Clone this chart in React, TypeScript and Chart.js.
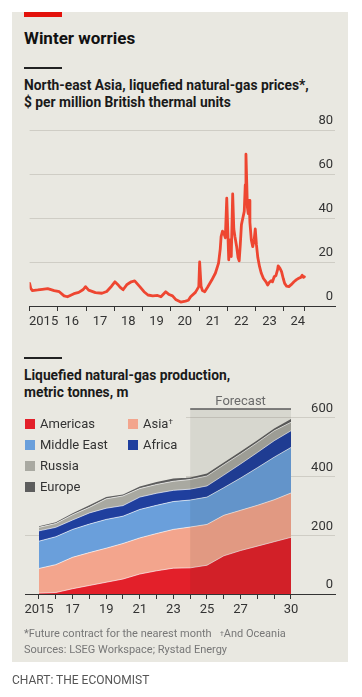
import React, { useEffect, useRef } from 'react';
import { Chart, registerables } from 'chart.js';

Chart.register(...registerables);

// ---------- Data: LNG prices (NE Asia, $/mmBtu) ----------
const priceDates = [
  2015.0, 2015.04, 2015.1, 2015.29, 2015.45, 2015.64, 2015.87,
  2016.05, 2016.22, 2016.34, 2016.57, 2016.74, 2016.9, 2016.98,
  2017.09, 2017.33, 2017.56, 2017.73, 2017.9,
  2018.02, 2018.12, 2018.2, 2018.31, 2018.45, 2018.6, 2018.72, 2018.9,
  2019.05, 2019.19, 2019.36, 2019.53, 2019.65, 2019.82, 2019.94,
  2020.06, 2020.17, 2020.35, 2020.52, 2020.62, 2020.7, 2020.87, 2020.99,
  2021.02, 2021.07, 2021.12, 2021.2, 2021.3, 2021.45, 2021.58, 2021.69, 2021.75, 2021.78, 2021.83, 2021.88, 2021.93, 2021.98,
  2022.02, 2022.05, 2022.08, 2022.1, 2022.14, 2022.19, 2022.23, 2022.27, 2022.33, 2022.38, 2022.42, 2022.46,
  2022.5, 2022.55, 2022.6, 2022.635, 2022.66, 2022.69, 2022.71, 2022.74, 2022.77, 2022.8, 2022.85, 2022.9, 2022.95, 2022.99,
  2023.03, 2023.08, 2023.14, 2023.2, 2023.28, 2023.37, 2023.43, 2023.49, 2023.55, 2023.6, 2023.66, 2023.72, 2023.78, 2023.8, 2023.86, 2023.92, 2023.98,
  2024.03, 2024.1, 2024.18, 2024.26, 2024.36, 2024.45, 2024.53, 2024.6, 2024.65, 2024.7, 2024.73,
];
const priceValues = [
  10.3, 8.0, 7.0, 7.3, 7.6, 7.9, 7.0,
  6.5, 4.6, 4.2, 5.6, 6.2, 7.5, 8.8,
  7.2, 6.1, 5.8, 6.6, 9.0,
  11.0, 9.8, 8.6, 7.4, 9.8, 11.0, 11.4, 8.8,
  6.5, 5.0, 4.6, 4.8, 4.2, 6.5, 5.2,
  4.6, 3.0, 1.8, 2.2, 2.6, 4.2, 6.2, 8.8,
  20.0, 9.0, 7.0, 6.5, 8.5, 11.8, 15.0, 19.5, 26.0, 31.5, 34.0, 33.0, 31.0, 49.0,
  33.0, 21.0, 28.0, 30.0, 22.5, 51.0, 35.0, 31.5, 27.0, 22.0, 20.5, 28.0,
  37.0, 40.0, 43.0, 55.0, 69.0, 55.0, 45.0, 42.0, 48.0, 38.0, 30.0, 27.0, 30.0, 35.0,
  28.0, 22.0, 18.0, 15.0, 12.5, 11.0, 9.5, 10.8, 11.5, 11.0, 13.3, 13.8, 16.5, 18.2, 17.2, 15.6, 12.5,
  10.3, 9.0, 8.8, 9.7, 11.0, 12.0, 12.6, 13.0, 14.0, 13.0, 13.3,
];
const priceTickYears = [2015, 2016, 2017, 2018, 2019, 2020, 2021, 2022, 2023, 2024, 2024.75];
const priceTickLabels = ['2015', '16', '17', '18', '19', '20', '21', '22', '23', '24', ''];
const priceYTicks = [0, 20, 40, 60, 80];

// ---------- Data: LNG production by region (m tonnes) ----------
const prodYears = [2015, 2016, 2017, 2018, 2019, 2020, 2021, 2022, 2023, 2024, 2025, 2026, 2027, 2028, 2029, 2030];
const americas = [3, 5, 18, 29, 40, 51, 68, 79, 88, 89, 98, 130, 148, 163, 178, 193];
const asia = [84, 95, 107, 112, 116, 121, 123, 127, 132, 139, 139, 138, 137, 139, 143, 151];
const middleEast = [93, 95, 95, 97, 98, 93, 97, 96, 95, 92, 93, 94, 110, 128, 145, 155];
const africa = [35, 32, 32, 38, 38, 36, 42, 41, 38, 37, 38, 43, 48, 52, 56, 57];
const russia = [12, 13, 18, 19, 32, 33, 29, 30, 31, 33, 34, 35, 34, 34, 34, 29];
const europe = [4, 4, 5, 7, 6, 5, 7, 8, 9, 7, 8, 8, 8, 8, 8, 11];
const prodTickLabels = ['2015', '', '17', '', '19', '', '21', '', '23', '', '25', '', '27', '', '', '30'];
const prodYTicks = [0, 200, 400, 600];
const forecastStart = 2024;
const forecastEnd = 2030;
const prodYMax = 630;

const regionNames = ['Americas', 'Asia', 'Middle East', 'Africa', 'Russia', 'Europe'];
const regionColors = ['#e3202a', '#f3a58d', '#6a9fdb', '#1f3f9e', '#a9a9a1', '#5d5d5d'];

const FONT = 'Roboto, "Noto Sans", sans-serif';
const GRID = '#cfcdc5';
const INK = '#333333';
const BG = '#e9e8e1';

const forecastPlugin = {
  id: 'forecastBox',
  afterDatasetsDraw(chart: any) {
    const { ctx, chartArea, scales } = chart;
    const x0 = scales.x.getPixelForValue(forecastStart);
    const x1 = scales.x.getPixelForValue(forecastEnd);
    ctx.save();
    ctx.fillStyle = 'rgba(40,35,20,0.085)';
    ctx.fillRect(x0, chartArea.top, x1 - x0, chartArea.bottom - chartArea.top - 0.5);
    ctx.strokeStyle = '#5a5a5a';
    ctx.lineWidth = 1.5;
    ctx.beginPath();
    ctx.moveTo(x0, chartArea.top);
    ctx.lineTo(x1, chartArea.top);
    ctx.stroke();
    ctx.fillStyle = '#6a6a6a';
    ctx.font = `13px ${FONT}`;
    ctx.textAlign = 'center';
    ctx.textBaseline = 'alphabetic';
    ctx.fillText('Forecast', (x0 + x1) / 2, chartArea.top - 4);
    ctx.restore();
  },
};

export default function App() {
  const priceRef = useRef<HTMLCanvasElement>(null);
  const prodRef = useRef<HTMLCanvasElement>(null);

  useEffect(() => {
    document.body.style.margin = '0';
    Chart.defaults.font.family = FONT;

    const priceXMax = 2015 + 310 / 28.67;
    const c1 = new Chart(priceRef.current as HTMLCanvasElement, {
      type: 'line',
      data: {
        datasets: [
          {
            data: priceDates.map((d, i) => ({ x: d, y: priceValues[i] })),
            borderColor: '#ee4631',
            borderWidth: 2.8,
            pointRadius: 0,
            tension: 0,
            borderJoinStyle: 'round',
            borderCapStyle: 'round',
          },
        ],
      },
      options: {
        animation: false,
        responsive: false,
        layout: { padding: { left: 13, right: 13, top: 22, bottom: 0 } },
        plugins: { legend: { display: false }, tooltip: { enabled: false } },
        scales: {
          x: {
            type: 'linear',
            min: 2015,
            max: priceXMax,
            afterBuildTicks: (s: any) => {
              s.ticks = priceTickYears.map((v) => ({ value: v }));
            },
            afterFit: (s: any) => {
              s.height = 30;
            },
            grid: { drawOnChartArea: false, drawTicks: true, tickLength: 5, color: INK, lineWidth: 1 },
            border: { display: true, color: INK, width: 1 },
            ticks: {
              autoSkip: false,
              maxRotation: 0,
              padding: 3,
              labelOffset: 14,
              color: INK,
              font: { size: 13 },
              callback: (_v: any, i: number) => priceTickLabels[i],
            },
          },
          y: {
            position: 'right',
            min: 0,
            max: priceYTicks[priceYTicks.length - 1],
            afterBuildTicks: (s: any) => {
              s.ticks = priceYTicks.map((v) => ({ value: v }));
            },
            afterFit: (s: any) => {
              s.width = 0;
            },
            grid: { color: GRID, drawTicks: false, lineWidth: 1 },
            border: { display: false },
            ticks: {
              mirror: true,
              padding: -2,
              labelOffset: -9,
              color: INK,
              font: { size: 13 },
            },
          },
        },
      } as any,
    });

    const series = [americas, asia, middleEast, africa, russia, europe];
    const prodXMin = 2015 - 14 / 16.8;
    const prodXMax = 2030 + 44 / 16.8;
    const c2 = new Chart(prodRef.current as HTMLCanvasElement, {
      type: 'line',
      data: {
        datasets: series.map((vals, i) => ({
          label: regionNames[i],
          data: prodYears.map((y, j) => ({ x: y, y: vals[j] })),
          backgroundColor: regionColors[i],
          borderColor: i === 5 ? 'rgba(0,0,0,0)' : 'rgba(255,255,255,0.7)',
          borderWidth: i === 5 ? 0 : 0.9,
          fill: i === 0 ? 'origin' : '-1',
          pointRadius: 0,
          tension: 0,
        })),
      },
      options: {
        animation: false,
        responsive: false,
        layout: { padding: { left: 13, right: 13, top: 24, bottom: 0 } },
        plugins: { legend: { display: false }, tooltip: { enabled: false } },
        scales: {
          x: {
            type: 'linear',
            min: prodXMin,
            max: prodXMax,
            afterBuildTicks: (s: any) => {
              s.ticks = prodYears.map((v) => ({ value: v }));
            },
            afterFit: (s: any) => {
              s.height = 33;
            },
            grid: { drawOnChartArea: false, drawTicks: true, tickLength: 5, color: INK, lineWidth: 1 },
            border: { display: true, color: INK, width: 1 },
            ticks: {
              autoSkip: false,
              maxRotation: 0,
              padding: 3,
              color: INK,
              font: { size: 13 },
              callback: (_v: any, i: number) => prodTickLabels[i],
            },
          },
          y: {
            position: 'right',
            stacked: true,
            min: 0,
            max: prodYMax,
            afterBuildTicks: (s: any) => {
              s.ticks = prodYTicks.map((v) => ({ value: v }));
            },
            afterFit: (s: any) => {
              s.width = 0;
            },
            grid: { color: GRID, drawTicks: false, lineWidth: 1 },
            border: { display: false },
            ticks: {
              mirror: true,
              padding: -2,
              labelOffset: -9,
              color: INK,
              font: { size: 13 },
            },
          },
        },
      } as any,
      plugins: [forecastPlugin],
    });

    return () => {
      c1.destroy();
      c2.destroy();
    };
  }, []);

  const abs = (l: number, t: number, extra: React.CSSProperties = {}): React.CSSProperties => ({
    position: 'absolute',
    left: l,
    top: t,
    ...extra,
  });

  const legendItem = (i: number, l: number, t: number, sup?: string) => (
    <div key={i} style={abs(l, t, { display: 'flex', alignItems: 'center', height: 12 })}>
      <div style={{ width: 10, height: 10, background: regionColors[i], marginRight: 5 }} />
      <span style={{ fontSize: 13, color: INK, whiteSpace: 'nowrap', lineHeight: '12px' }}>
        {regionNames[i]}
        {sup ? <sup style={{ fontSize: 8, verticalAlign: 'top', position: 'relative', top: -2 }}>{sup}</sup> : null}
      </span>
    </div>
  );

  return (
    <div style={{ position: 'absolute', left: 0, top: 0, width: 362, height: 697, background: '#fff', fontFamily: FONT, overflow: 'hidden' }}>
      <div style={abs(12, 12, { width: 336, height: 650, background: BG })} />
      <div style={abs(24, 12, { width: 38, height: 5, background: '#e3120b' })} />
      <div style={abs(24, 27, { fontSize: 17, fontWeight: 700, color: '#111', whiteSpace: 'nowrap', lineHeight: '22px' })}>
        Winter worries
      </div>
      <div style={abs(24, 67, { width: 38, height: 1.5, background: '#222' })} />
      <div style={abs(24, 77, { fontSize: 13.8, fontWeight: 700, color: '#1a1a1a', lineHeight: '17px', whiteSpace: 'nowrap' })}>
        North-east Asia, liquefied natural-gas prices*,
        <br />$ per million British thermal units
      </div>
      <canvas ref={priceRef} width={336} height={228} style={abs(12, 108)} />

      <div style={abs(24, 357, { width: 38, height: 1.5, background: '#222' })} />
      <div style={abs(24, 367, { fontSize: 13.8, fontWeight: 700, color: '#1a1a1a', lineHeight: '17px', whiteSpace: 'nowrap' })}>
        Liquefied natural-gas production,
        <br />
        metric tonnes, m
      </div>
      <canvas ref={prodRef} width={336} height={242} style={abs(12, 385)} />
      <div style={abs(20, 412, { width: 166, height: 66, background: BG })} />
      {legendItem(0, 25, 418)}
      {legendItem(1, 128, 418, '†')}
      {legendItem(2, 25, 439)}
      {legendItem(3, 128, 439)}
      {legendItem(4, 25, 460)}
      {legendItem(5, 25, 481)}

      <div style={abs(24, 626, { fontSize: 11, color: '#777', lineHeight: '16px', whiteSpace: 'nowrap' })}>
        *Future contract for the nearest month&nbsp;&nbsp;&nbsp;<sup style={{ fontSize: 7, verticalAlign: 'top' }}>†</sup>And Oceania
        <br />
        Sources: LSEG Workspace; Rystad Energy
      </div>
      <div style={abs(12, 673, { fontSize: 12, color: '#555', whiteSpace: 'nowrap', lineHeight: '14px' })}>
        CHART: THE ECONOMIST
      </div>
    </div>
  );
}
